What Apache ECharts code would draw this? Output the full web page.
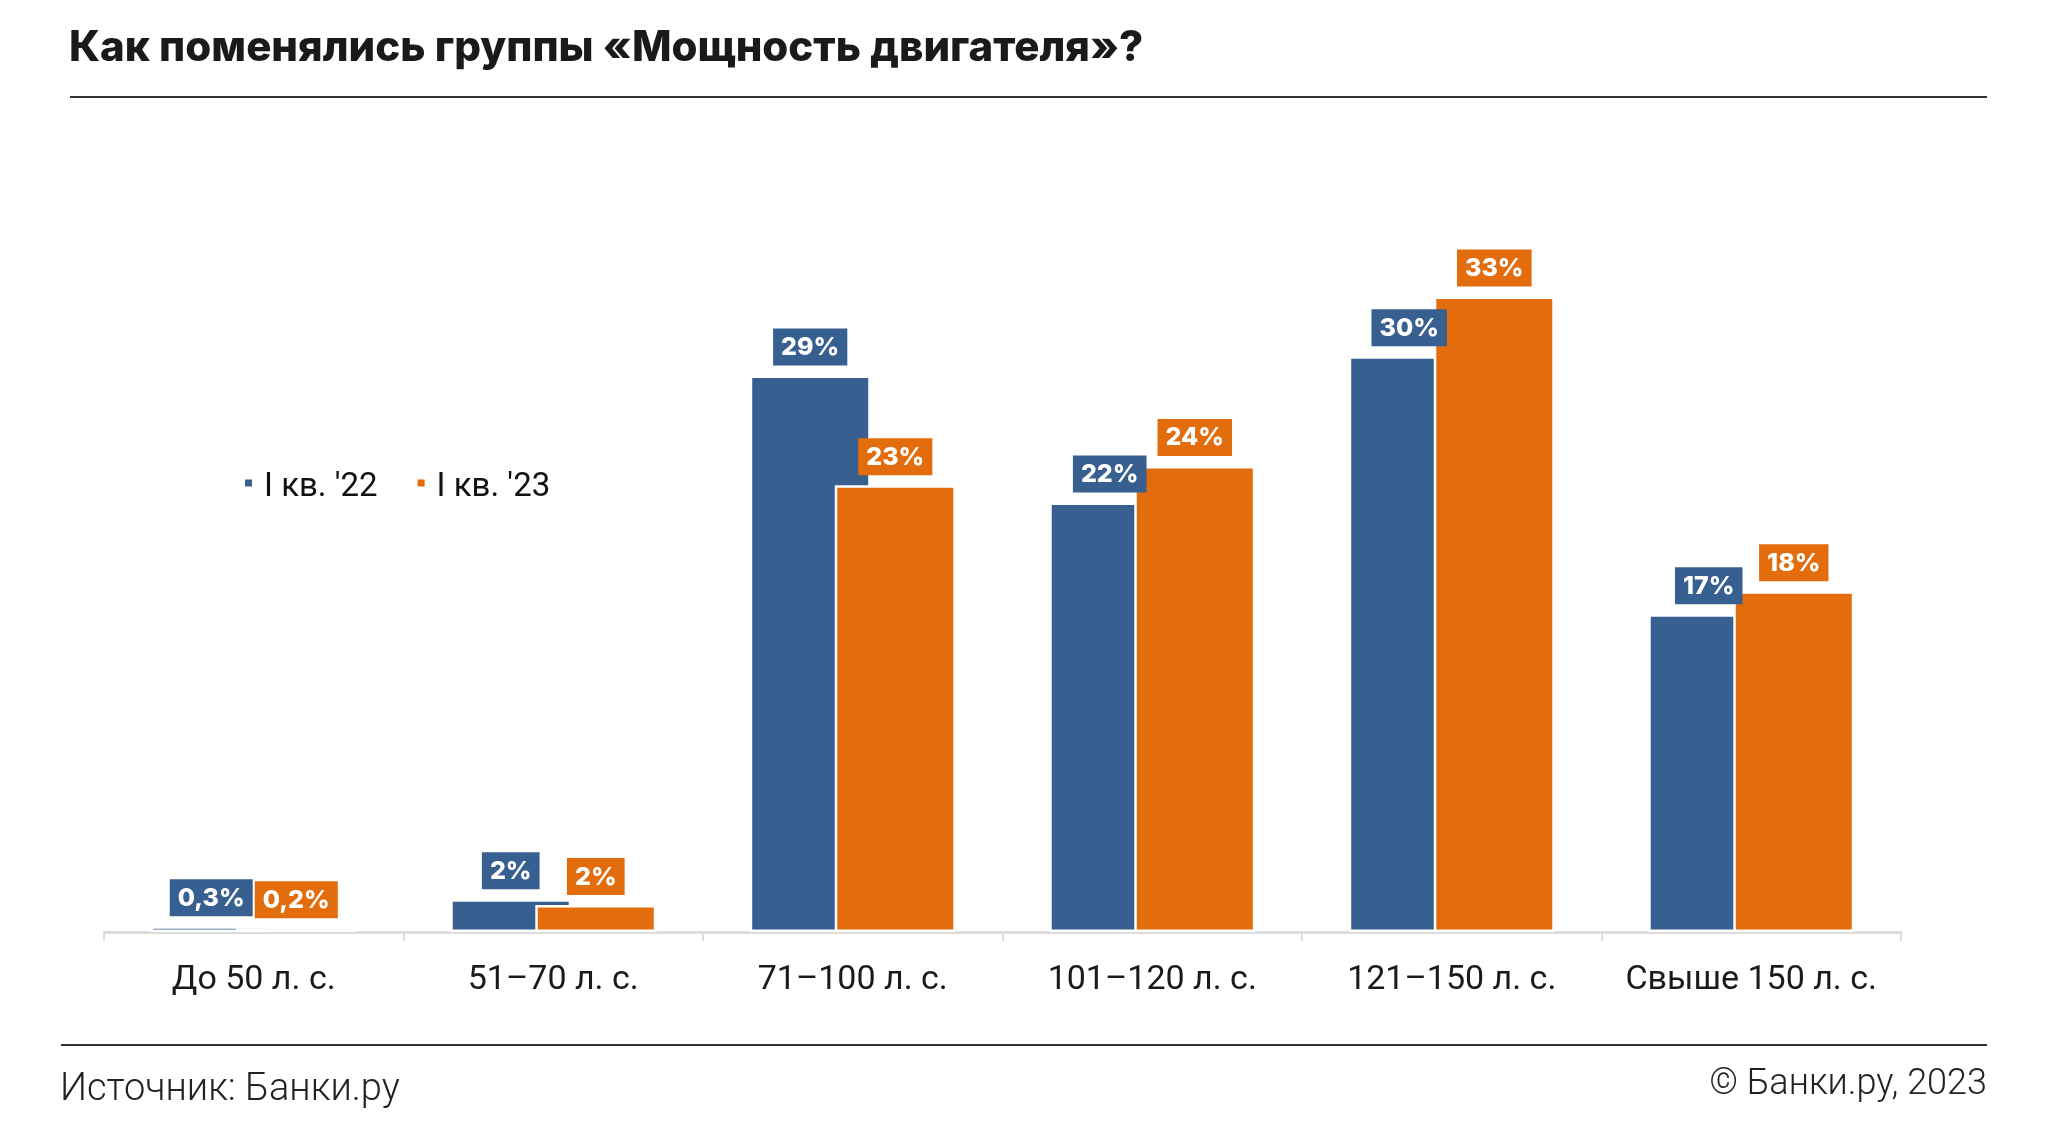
<!DOCTYPE html>
<html>
<head>
<meta charset="utf-8">
<script src="https://cdn.jsdelivr.net/npm/echarts@6/dist/echarts.min.js"></script>
<style>
html,body{margin:0;padding:0;background:#fff;}
#chart{width:2050px;height:1141px;}
</style>
</head>
<body>
<div id="chart"></div>
<script>
var categories = ['До 50 л. с.', '51–70 л. с.', '71–100 л. с.', '101–120 л. с.', '121–150 л. с.', 'Свыше 150 л. с.'];
var seriesNames = ["I кв. '22", "I кв. '23"];
var q1_22 = [0.3, 1.7, 28.9, 22.3, 29.9, 16.5];
var q1_23 = [0.2, 1.4, 23.2, 24.2, 33.0, 17.7];
var labels22 = ['0,3%', '2%', '29%', '22%', '30%', '17%'];
var labels23 = ['0,2%', '2%', '23%', '24%', '33%', '18%'];

var BLUE = '#375F8F';
var ORANGE = '#E36C0C';
var FONT = 'Roboto, "Noto Sans", sans-serif';

var chart = echarts.init(document.getElementById('chart'), null, {renderer: 'canvas'});

function labelCfg(color, texts) {
  return {
    show: true,
    position: 'top',
    distance: 10,
    backgroundColor: color,
    color: '#fff',
    fontFamily: 'Inter, Roboto, sans-serif',
    fontWeight: 800,
    fontSize: 25,
    lineHeight: 28,
    padding: [5, 8, 4, 8],
    formatter: function (p) { return texts[p.dataIndex]; }
  };
}

var option = {
  animation: false,
  backgroundColor: '#fff',
  title: [
    {
      text: 'Как поменялись группы «Мощность двигателя»?',
      left: 69, top: 27, padding: 0,
      textStyle: {fontFamily: 'Inter, Roboto, sans-serif', fontWeight: 800, fontSize: 42, color: '#1a1a1a'}
    },
    {
      text: 'Источник: Банки.ру',
      left: 60, top: 1071, padding: 0,
      textStyle: {fontFamily: FONT, fontWeight: 300, fontSize: 38, color: '#222'}
    },
    {
      text: '© Банки.ру, 2023',
      right: 63, top: 1067, padding: 0,
      textStyle: {fontFamily: FONT, fontWeight: 300, fontSize: 36, color: '#222'}
    }
  ],
  legend: {
    left: 243, top: 471, padding: 0,
    itemWidth: 9, itemHeight: 30, itemGap: 38,
    icon: 'path://M0,0h0.01v0.01h-0.01z M0,6h9v9h-9z M0,30h0.01v0.01h-0.01z',
    textStyle: {fontFamily: FONT, fontSize: 33, color: '#111', padding: [0, 0, 0, 6]},
    data: seriesNames
  },
  grid: {left: 104, right: 149, top: 258, bottom: 209, containLabel: false},
  xAxis: {
    type: 'category',
    data: categories,
    offset: 3,
    axisLine: {lineStyle: {color: '#dcdcdc', width: 3}},
    axisTick: {show: true, length: 9, lineStyle: {color: '#dcdcdc', width: 2}},
    axisLabel: {interval: 0, margin: 28, fontFamily: FONT, fontSize: 34, color: '#1a1a1a'}
  },
  yAxis: {
    type: 'value', min: 0, max: 35, show: false,
    splitLine: {show: false}
  },
  graphic: [
    {type: 'rect', shape: {x: 70, y: 96, width: 1917, height: 2}, style: {fill: '#333'}, silent: true},
    {type: 'rect', shape: {x: 61, y: 1044, width: 1926, height: 2}, style: {fill: '#333'}, silent: true}
  ],
  series: [
    {
      name: seriesNames[0], type: 'bar', data: q1_22,
      barWidth: 121, barGap: '-29.7%',
      itemStyle: {color: BLUE, borderColor: '#fff', borderWidth: 2.5},
      label: labelCfg(BLUE, labels22)
    },
    {
      name: seriesNames[1], type: 'bar', data: q1_23,
      barWidth: 121, barGap: '-29.7%',
      itemStyle: {color: ORANGE, borderColor: '#fff', borderWidth: 2.5},
      label: labelCfg(ORANGE, labels23)
    }
  ]
};
chart.setOption(option);
</script>
</body>
</html>
